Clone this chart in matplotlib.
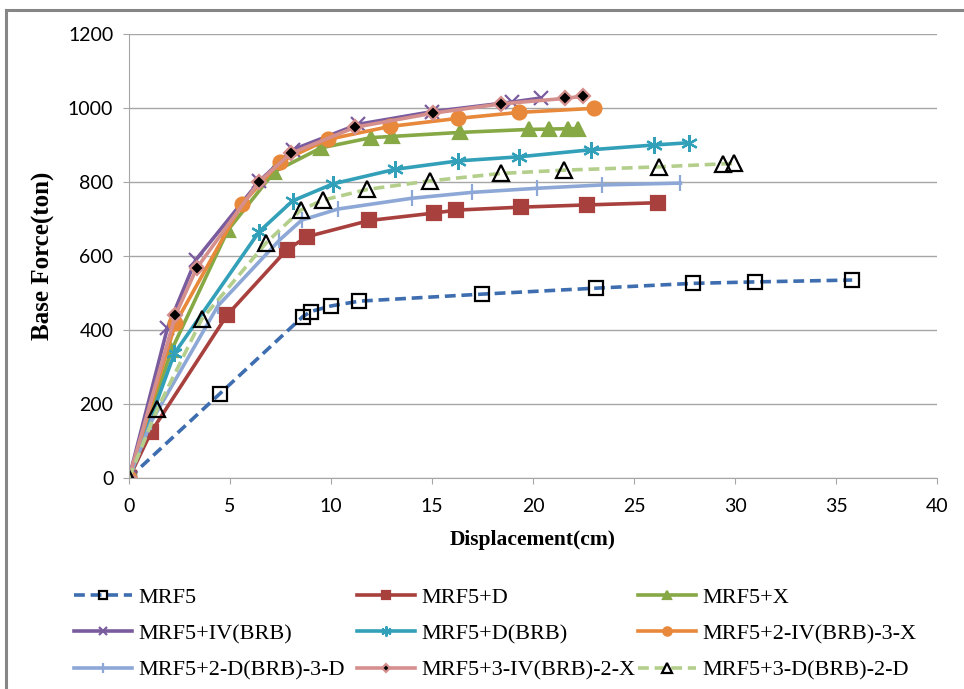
#!/usr/bin/env python3
"""Pushover curves (base force vs displacement) for MRF5 frame variants."""

import matplotlib
matplotlib.use("Agg")
import matplotlib.pyplot as plt
from matplotlib.lines import Line2D

# Series data: displacement (cm), base force (ton)
MRF5_X = [0, 4.5, 8.6, 9.0, 10.0, 11.4, 17.5, 23.1, 27.9, 31.0, 35.8]
MRF5_Y = [0, 228, 436, 450, 465, 478, 497, 513, 526, 530, 535]

MRF5_D_X = [0, 1.1, 4.85, 7.8, 8.8, 11.9, 15.1, 16.2, 19.4, 22.65, 26.2]
MRF5_D_Y = [0, 125, 440, 616, 652, 696, 716, 724, 732, 738, 744]

MRF5_X_X = [0, 2.1, 4.9, 7.2, 9.5, 12.0, 13.0, 16.4, 19.8, 20.8, 21.75, 22.25]
MRF5_X_Y = [0, 345, 670, 828, 892, 920, 923, 934, 942, 943, 944, 944]

MRF5_IV_X = [0, 1.9, 3.3, 6.45, 8.1, 11.35, 15.0, 18.95, 20.4]
MRF5_IV_Y = [0, 405, 589, 802, 887, 956, 990, 1016, 1027]

MRF5_DBRB_X = [0, 2.25, 6.45, 8.1, 10.1, 13.15, 16.3, 19.3, 22.85, 26.0, 27.7]
MRF5_DBRB_Y = [0, 337, 666, 749, 795, 834, 857, 868, 887, 900, 906]

MRF5_2IV3X_X = [0, 2.3, 5.6, 7.5, 9.85, 12.9, 16.3, 19.3, 23.0]
MRF5_2IV3X_Y = [0, 418, 741, 855, 915, 950, 972, 988, 999]

MRF5_2D3D_X = [0, 1.1, 4.4, 7.45, 8.55, 10.35, 14.0, 17.0, 20.2, 23.4, 27.3]
MRF5_2D3D_Y = [0, 152, 465, 643, 697, 727, 756, 772, 783, 792, 797]

MRF5_3IV2X_X = [0, 2.3, 3.35, 6.45, 8.0, 11.2, 15.05, 18.4, 21.6, 22.5]
MRF5_3IV2X_Y = [0, 440, 567, 801, 877, 948, 986, 1011, 1026, 1032]

MRF5_3D2D_X = [0, 1.4, 3.6, 6.8, 8.5, 9.6, 11.8, 14.9, 18.4, 21.55, 26.25, 29.4, 29.95]
MRF5_3D2D_Y = [0, 186, 429, 636, 724, 751, 780, 803, 823, 832, 841, 849, 850]

X_TICKS = [0, 5, 10, 15, 20, 25, 30, 35, 40]
Y_TICKS = [0, 200, 400, 600, 800, 1000, 1200]

fig = plt.figure(figsize=(9.64, 6.89), dpi=100)
fig.patch.set_facecolor("white")
ax = fig.add_axes([0.1338, 0.3062, 0.8382, 0.6445])

DASH = (0, (3, 1.6))
# (x, y, label, line colour, linestyle, marker, marker size, face, edge)
series = [
    (MRF5_X, MRF5_Y, "MRF5", "#3E6EB0", DASH, "s", 10, "none", "black"),
    (MRF5_D_X, MRF5_D_Y, "MRF5+D", "#A8403D", "-", "s", 10, "#A8403D", "#A8403D"),
    (MRF5_X_X, MRF5_X_Y, "MRF5+X", "#86A845", "-", "^", 10, "#86A845", "#86A845"),
    (MRF5_IV_X, MRF5_IV_Y, "MRF5+IV(BRB)", "#7A5C9E", "-", "x", 10, "#7A5C9E", "#7A5C9E"),
    (MRF5_DBRB_X, MRF5_DBRB_Y, "MRF5+D(BRB)", "#33A0B9", "-", (6, 2, 0), 12, "#33A0B9", "#33A0B9"),
    (MRF5_2IV3X_X, MRF5_2IV3X_Y, "MRF5+2-IV(BRB)-3-X", "#E8883A", "-", "o", 10, "#E8883A", "#E8883A"),
    (MRF5_2D3D_X, MRF5_2D3D_Y, "MRF5+2-D(BRB)-3-D", "#8DA8D6", "-", "|", 11, "#8DA8D6", "#8DA8D6"),
    (MRF5_3IV2X_X, MRF5_3IV2X_Y, "MRF5+3-IV(BRB)-2-X", "#D58F8D", "-", "D", 7, "black", "#D58F8D"),
    (MRF5_3D2D_X, MRF5_3D2D_Y, "MRF5+3-D(BRB)-2-D", "#B4CE8B", DASH, "^", 11, "none", "black"),
]

handles = []
for xs, ys, label, color, ls, marker, ms, face, edge in series:
    h, = ax.plot(xs, ys, color=color, linestyle=ls, linewidth=2.6, marker=marker,
                 markersize=ms, markerfacecolor=face, markeredgecolor=edge,
                 markeredgewidth=1.6, label=label)
    handles.append(h)

ax.set_xlim(0, 40)
ax.set_ylim(0, 1200)
ax.set_xticks(X_TICKS)
ax.set_yticks(Y_TICKS)
ax.grid(axis="y", color="#A6A6A6", linewidth=1)
ax.set_axisbelow(True)
for side in ["top", "right"]:
    ax.spines[side].set_visible(False)
for side in ["left", "bottom"]:
    ax.spines[side].set_color("#A6A6A6")
ax.tick_params(axis="both", color="#A6A6A6", length=4.3, labelsize=14)
ax.tick_params(axis="x", pad=10)
ax.tick_params(axis="y", pad=7)
for lbl in ax.get_xticklabels() + ax.get_yticklabels():
    lbl.set_family("Lato")
ax.set_xlabel("Displacement(cm)", fontsize=15.5, fontweight="bold", family="Liberation Serif", labelpad=11)
ax.set_ylabel("Base Force(ton)", fontsize=18, fontweight="bold", family="Liberation Serif", labelpad=9)

# Legend laid out row by row in three columns, like the reference
col_x = [74 / 964, 357 / 964, 638 / 964]
for c in range(3):
    col_handles = handles[c::3]
    leg = fig.legend(handles=col_handles, labels=[h.get_label() for h in col_handles],
                     loc="upper left", bbox_to_anchor=(col_x[c], 0.148), frameon=False,
                     prop={"family": "Liberation Serif", "size": 16}, handlelength=2.6,
                     handletextpad=0.3, labelspacing=0.72, borderpad=0, borderaxespad=0,
                     markerscale=0.6)

# Outer chart-area frame: only the left and top edges show in the reference
frame_kw = dict(transform=fig.transFigure, color="#868686", linewidth=2.2)
fig.add_artist(Line2D([6 / 964, 6 / 964], [0, 1 - 10 / 689], **frame_kw))
fig.add_artist(Line2D([6 / 964, 1], [1 - 10 / 689, 1 - 10 / 689], **frame_kw))

fig.savefig("out.png", dpi=100, facecolor=fig.get_facecolor())
